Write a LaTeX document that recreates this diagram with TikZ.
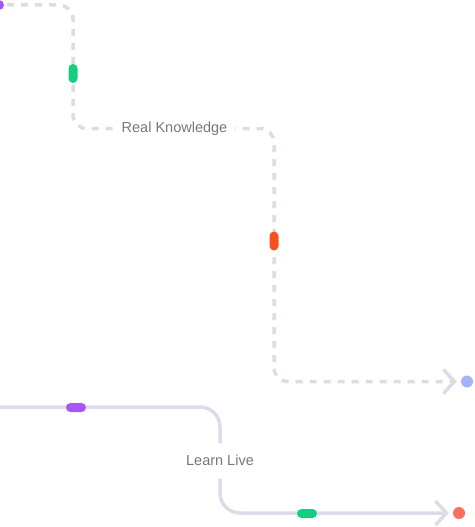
\documentclass[tikz,border=0pt]{standalone}
\usepackage{fontspec}
\setmainfont{Liberation Sans}
\usetikzlibrary{arrows.meta}
\definecolor{linegray}{HTML}{DCDCE8}
\definecolor{textgray}{HTML}{737784}
\definecolor{cgreen}{HTML}{13CE7E}
\definecolor{corange}{HTML}{F4511E}
\definecolor{cpurple}{HTML}{A855F7}
\definecolor{cblue}{HTML}{A3B3FB}
\definecolor{cred}{HTML}{F8715F}
\begin{document}
\begin{tikzpicture}[x=1pt,y=-1pt,
  dot/.style={circle,inner sep=0pt,minimum size=12pt},
  pillv/.style={rectangle,rounded corners=4.5pt,inner sep=0pt,minimum width=9pt,minimum height=19pt},
  pillh/.style={rectangle,rounded corners=4.5pt,inner sep=0pt,minimum width=20pt,minimum height=9pt},
  lbl/.style={text=textgray,font=\fontsize{14.5}{17}\selectfont,inner sep=0pt},
  dashline/.style={draw=linegray,line width=3.5pt,dash pattern=on 7pt off 7pt,dash phase=6pt,rounded corners=14pt},
  solidline/.style={draw=linegray,line width=3.5pt,rounded corners=20pt},
  chev/.style={-{Straight Barb[length=11pt,width=24pt]}}
]
\clip (0,0) rectangle (474,527);
% nodes
\node[dot,fill=cpurple,minimum size=10pt] (s1) at (-1,5) {};
\node[lbl] (rk) at (174.5,128.5) {Real Knowledge};
\node[dot,fill=cblue] (e1) at (467,381.5) {};
\coordinate (b0) at (-5,407);
\node[lbl] (ll) at (220,460) {Learn Live};
\node[dot,fill=cred] (e2) at (459,513) {};
% connectors
\draw[dashline] (s1.center) -- (73,5) -- (73,128.5) -- ([xshift=-7pt]rk.west);
\draw[dashline,chev,shorten >=4pt] ([xshift=7pt]rk.east) -- (274,128.5) -- (274,381.5) -- (e1.west);
\draw[solidline] (b0) -| ([yshift=11pt]ll.north);
\draw[solidline,chev,shorten >=4pt] ([yshift=-13pt]ll.south) |- (e2.west);
% markers
\node[pillv,fill=cgreen] (m1) at (73,73.5) {};
\node[pillv,fill=corange] (m2) at (274,241) {};
\node[pillh,fill=cpurple] (m3) at (76,407.5) {};
\node[pillh,fill=cgreen] (m4) at (307,513.5) {};
\end{tikzpicture}
\end{document}
